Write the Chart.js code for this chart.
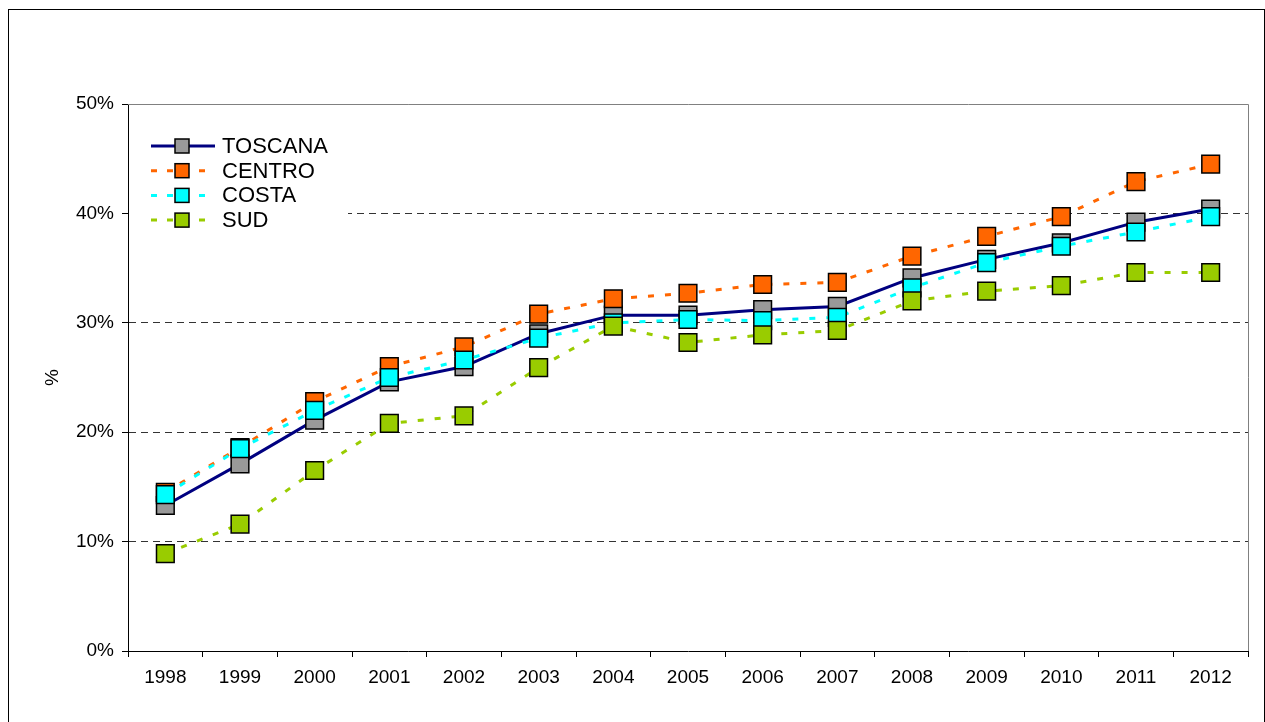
<!DOCTYPE html>
<html>
<head>
<meta charset="utf-8">
<script src="https://cdn.jsdelivr.net/npm/chart.js@4.4.0/dist/chart.umd.min.js"></script>
<style>
    html, body { margin: 0; padding: 0; background: #fff; }
    #wrap { width: 1265px; height: 722px; position: relative; }
</style>
</head>
<body>
<div id="wrap"><canvas id="chart"></canvas></div>
<script>
const years = ["1998", "1999", "2000", "2001", "2002", "2003", "2004", "2005", "2006", "2007", "2008", "2009", "2010", "2011", "2012"];
const toscana = [13.3, 17.1, 21.1, 24.6, 26.0, 29.0, 30.7, 30.7, 31.2, 31.5, 34.1, 35.8, 37.3, 39.2, 40.4];
const centro = [14.5, 18.6, 22.8, 26.0, 27.8, 30.8, 32.2, 32.7, 33.5, 33.7, 36.1, 37.9, 39.7, 42.9, 44.5];
const costa = [14.3, 18.5, 22.0, 25.0, 26.6, 28.6, 30.0, 30.3, 30.2, 30.5, 33.2, 35.5, 37.0, 38.3, 39.7];
const sud = [8.9, 11.6, 16.5, 20.8, 21.5, 25.9, 29.7, 28.2, 28.9, 29.3, 32.0, 32.9, 33.4, 34.6, 34.6];
const yTicks = [0, 10, 20, 30, 40, 50];

const FONT = "'Liberation Sans', Arial, sans-serif";

const series = [
    { label: "TOSCANA", data: toscana, line: "#000080", fill: "#999999", dash: [] , order: 4 },
    { label: "CENTRO", data: centro, line: "#FF6600", fill: "#FF6600", dash: [6, 11], order: 3 },
    { label: "COSTA", data: costa, line: "#00FFFF", fill: "#00FFFF", dash: [6, 11], order: 2 },
    { label: "SUD", data: sud, line: "#99CC00", fill: "#99CC00", dash: [6, 11], order: 1 }
];

function drawMarker(ctx, x, y, side, fill) {
    ctx.fillStyle = fill;
    ctx.strokeStyle = "#000";
    ctx.lineWidth = 1.5;
    ctx.fillRect(x - side / 2, y - side / 2, side, side);
    ctx.strokeRect(x - side / 2, y - side / 2, side, side);
}

// outer frame, plot area border and the legend box
const decor = {
    id: "decor",
    beforeDatasetsDraw(chart) {
        const { ctx, chartArea: a } = chart;
        ctx.save();
        ctx.strokeStyle = "#808080";
        ctx.lineWidth = 1;
        ctx.beginPath();
        ctx.moveTo(a.left, a.top + 0.5);
        ctx.lineTo(a.right + 0.5, a.top + 0.5);
        ctx.lineTo(a.right + 0.5, a.bottom);
        ctx.stroke();
        ctx.restore();
    },
    afterDraw(chart) {
        const { ctx, chartArea: a } = chart;
        ctx.save();
        ctx.strokeStyle = "#000";
        ctx.lineWidth = 1;
        ctx.strokeRect(8.5, 9.5, 1256, 730);

        ctx.fillStyle = "#fff";
        ctx.fillRect(a.left + 1, 130, 219, 102);

        series.forEach((s, i) => {
            const y = 146 + i * 24.7;
            ctx.strokeStyle = s.line;
            ctx.lineWidth = 3;
            ctx.setLineDash(s.dash.length ? [6, 10] : []);
            ctx.beginPath();
            ctx.moveTo(151, y);
            ctx.lineTo(215, y);
            ctx.stroke();
            ctx.setLineDash([]);
            drawMarker(ctx, 182, y, 14, s.fill);
            ctx.fillStyle = "#000";
            ctx.font = "22px " + FONT;
            ctx.textBaseline = "middle";
            ctx.fillText(s.label, 222, y + 1);
        });
        ctx.restore();
    }
};

const chart = new Chart(document.getElementById("chart"), {
    type: "line",
    data: {
        labels: years,
        datasets: series.map(s => ({
            label: s.label,
            data: s.data,
            order: s.order,
            borderColor: s.line,
            borderWidth: 3,
            borderDash: s.dash,
            fill: false,
            tension: 0,
            pointStyle: "rect",
            pointRadius: 12.5,
            pointHoverRadius: 12.5,
            pointBackgroundColor: s.fill,
            pointBorderColor: "#000",
            pointBorderWidth: 1.5
        }))
    },
    options: {
        responsive: true,
        maintainAspectRatio: false,
        animation: false,
        layout: { autoPadding: false, padding: { left: 20, right: 17, top: 104, bottom: 21 } },
        plugins: {
            legend: { display: false },
            tooltip: { enabled: false }
        },
        scales: {
            x: {
                type: "category",
                offset: true,
                grid: {
                    offset: true,
                    drawOnChartArea: false,
                    drawTicks: true,
                    tickLength: 6,
                    tickColor: "#000"
                },
                border: { color: "#000", width: 1 },
                ticks: {
                    color: "#000",
                    font: { family: FONT, size: 19 },
                    padding: 9,
                    maxRotation: 0,
                    autoSkip: false
                },
                afterFit(scale) { scale.height = 50; }
            },
            y: {
                min: 0,
                max: 50,
                afterBuildTicks(scale) { scale.ticks = yTicks.map(v => ({ value: v })); },
                grid: {
                    color: c => (c.tick && c.tick.value > 0 && c.tick.value < 50) ? "#333" : "rgba(0,0,0,0)",
                    lineWidth: 1,
                    drawTicks: true,
                    tickLength: 6,
                    tickColor: "#000",
                    tickBorderDash: []
                },
                border: { color: "#000", width: 1, dash: [7, 5] },
                ticks: {
                    color: "#000",
                    font: { family: FONT, size: 19 },
                    padding: 8,
                    callback: v => v + "%"
                },
                title: {
                    display: true,
                    text: "%",
                    color: "#000",
                    font: { family: FONT, size: 19 },
                    padding: { top: 21, bottom: 0 }
                },
                afterFit(scale) { scale.width = 108; }
            }
        }
    },
    plugins: [decor]
});
</script>
</body>
</html>
